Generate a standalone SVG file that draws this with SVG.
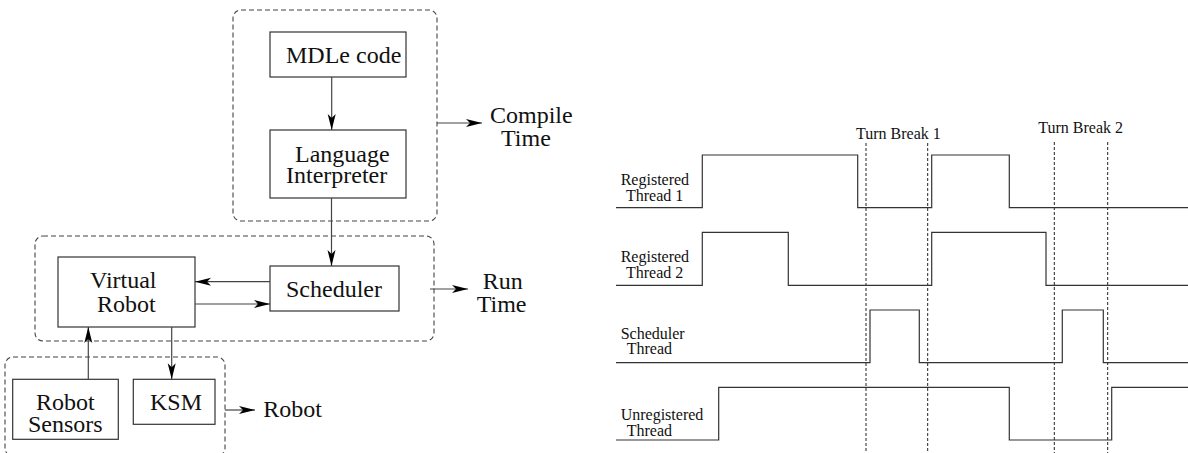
<svg xmlns="http://www.w3.org/2000/svg" width="1188" height="453" viewBox="0 0 1188 453">
<style>
.box{fill:none;stroke:#333;stroke-width:1.2}
.grp{fill:none;stroke:#444;stroke-width:1.1;stroke-dasharray:5 3}
.con{fill:none;stroke:#444;stroke-width:1.2}
.wave{fill:none;stroke:#333;stroke-width:1.2}
.tb{fill:none;stroke:#222;stroke-width:1;stroke-dasharray:3 2}
.t{font-family:"Liberation Serif","Times New Roman",serif;font-size:24px;fill:#111}
.s{font-family:"Liberation Serif","Times New Roman",serif;font-size:16px;fill:#111}
</style>
<defs>
<marker id="ah" markerUnits="userSpaceOnUse" markerWidth="18" markerHeight="10" refX="16" refY="4.5" orient="auto">
<path d="M0,0.5 L16,4.5 L0,8.5 L4,4.5 z" fill="#000"/>
</marker>
</defs>
<rect x="0" y="0" width="1188" height="453" fill="#fff"/>

<g id="group-compile">
<rect class="grp" x="233" y="10" width="204" height="211" rx="8"/>
</g>
<g id="group-run">
<rect class="grp" x="35" y="236" width="399" height="105" rx="8"/>
</g>
<g id="group-robot">
<rect class="grp" x="5" y="357" width="220" height="99" rx="8"/>
</g>

<g id="node-mdle">
<rect class="box" x="270" y="32" width="136" height="45"/>
<text class="t" x="286" y="63">MDLe code</text>
</g>
<g id="node-interpreter">
<rect class="box" x="270" y="130" width="136" height="68"/>
<text class="t" x="295" y="161.7">Language</text>
<text class="t" x="286" y="183">Interpreter</text>
</g>
<g id="node-virtual-robot">
<rect class="box" x="58" y="257" width="137" height="70"/>
<text class="t" x="90" y="288.3">Virtual</text>
<text class="t" x="97" y="311.7">Robot</text>
</g>
<g id="node-scheduler">
<rect class="box" x="270" y="266" width="129" height="45"/>
<text class="t" x="286" y="297">Scheduler</text>
</g>
<g id="node-robot-sensors">
<rect class="box" x="12.7" y="379.3" width="105.6" height="60"/>
<text class="t" x="36" y="410">Robot</text>
<text class="t" x="28" y="431.7">Sensors</text>
</g>
<g id="node-ksm">
<rect class="box" x="133.3" y="379.3" width="81.7" height="45"/>
<text class="t" x="150" y="410">KSM</text>
</g>

<g id="labels">
<text class="t" x="490" y="123">Compile</text>
<text class="t" x="501" y="146">Time</text>
<text class="t" x="482.7" y="289.3">Run</text>
<text class="t" x="476.7" y="311.7">Time</text>
<text class="t" x="263.3" y="416.7">Robot</text>
</g>

<g id="connectors">
<line class="con" x1="331.7" y1="77" x2="331.7" y2="130" marker-end="url(#ah)"/>
<line class="con" x1="331.5" y1="198" x2="331.5" y2="266" marker-end="url(#ah)"/>
<line class="con" x1="270" y1="281.7" x2="195" y2="281.7" marker-end="url(#ah)"/>
<line class="con" x1="195" y1="304" x2="270" y2="304" marker-end="url(#ah)"/>
<line class="con" x1="88.3" y1="379.3" x2="88.3" y2="327" marker-end="url(#ah)"/>
<line class="con" x1="171.7" y1="327" x2="171.7" y2="379.3" marker-end="url(#ah)"/>
<line class="con" x1="437" y1="123" x2="482" y2="123" marker-end="url(#ah)"/>
<line class="con" x1="430" y1="289" x2="468" y2="289" marker-end="url(#ah)"/>
<line class="con" x1="225" y1="410" x2="255" y2="410" marker-end="url(#ah)"/>
</g>

<g id="timing">
<line class="tb" x1="866" y1="143" x2="866" y2="453"/>
<line class="tb" x1="927.7" y1="143" x2="927.7" y2="453"/>
<line class="tb" x1="1054.3" y1="142" x2="1054.3" y2="453"/>
<line class="tb" x1="1107.7" y1="142" x2="1107.7" y2="453"/>
<text class="s" x="856" y="139">Turn Break 1</text>
<text class="s" x="1038.3" y="133.3">Turn Break 2</text>

<path class="wave" d="M616,207.7 H702.3 V155 H857.7 V207.7 H931.7 V155 H1009.3 V207.7 H1188"/>
<path class="wave" d="M616,285.3 H702.3 V232.3 H788.3 V285.3 H931.7 V232.3 H1046 V285.3 H1188"/>
<path class="wave" d="M616,362.7 H870 V310 H919.3 V362.7 H1062.3 V310 H1103.3 V362.7 H1188"/>
<path class="wave" d="M616,440 H718.7 V387.3 H1009.3 V440 H1111.7 V387.3 H1188"/>

<text class="s" x="620.7" y="185">Registered</text>
<text class="s" x="626" y="200.5">Thread 1</text>
<text class="s" x="620.7" y="262.3">Registered</text>
<text class="s" x="626" y="277.7">Thread 2</text>
<text class="s" x="620.7" y="339">Scheduler</text>
<text class="s" x="626.7" y="354.3">Thread</text>
<text class="s" x="620.7" y="420">Unregistered</text>
<text class="s" x="626.7" y="435.7">Thread</text>
</g>
</svg>
